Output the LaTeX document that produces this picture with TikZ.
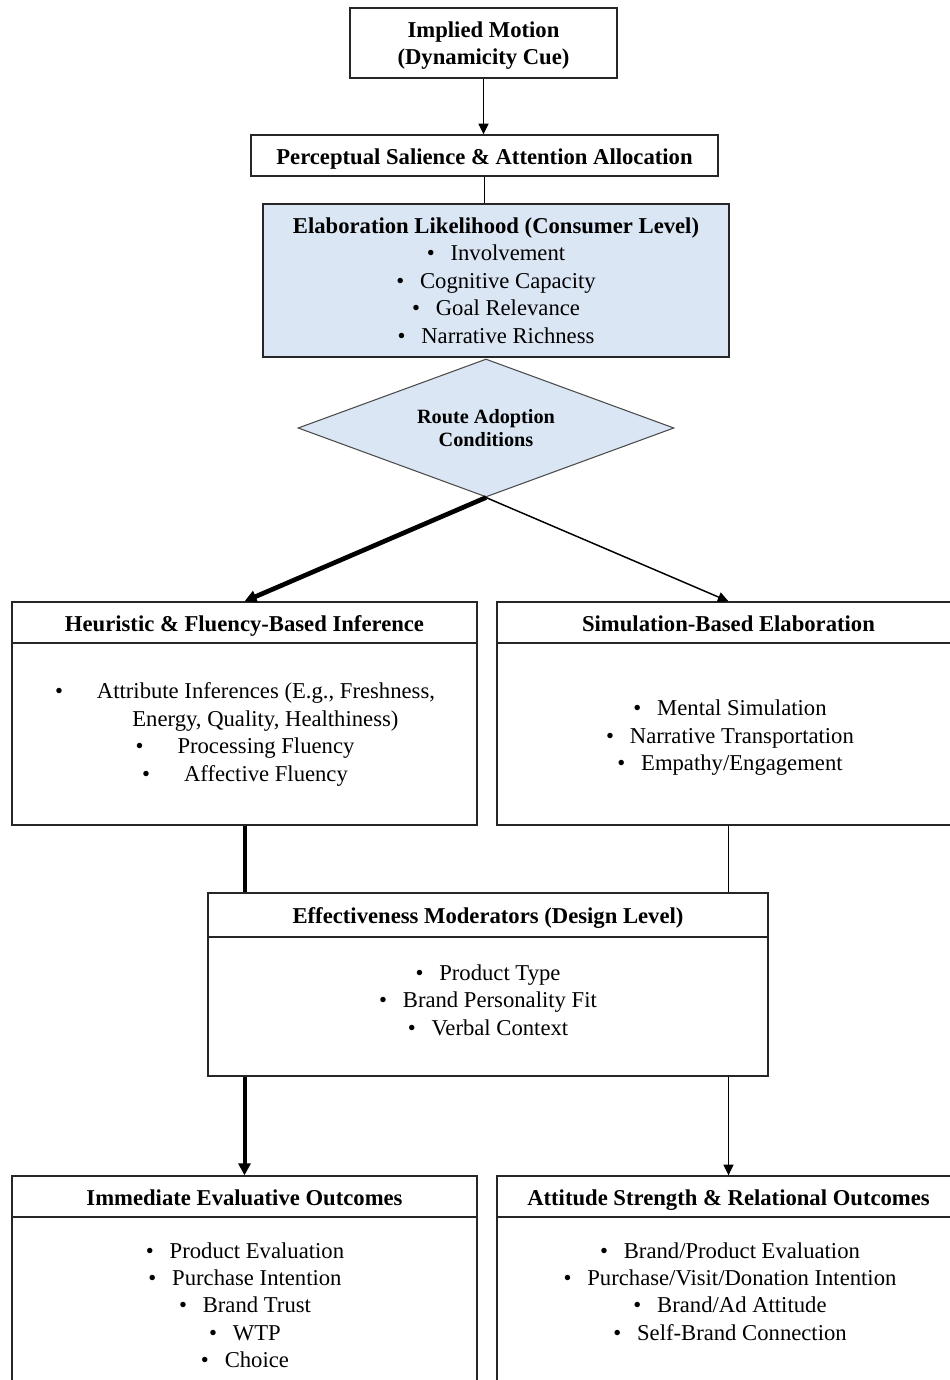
\documentclass[tikz,border=0pt]{standalone}
\usepackage{fontspec}
\setmainfont{Liberation Serif}
\usetikzlibrary{arrows.meta,shapes.geometric}

\definecolor{paleblue}{HTML}{DAE6F3}

\begin{document}
\begin{tikzpicture}[x=0.75pt, y=-0.75pt,
	box/.style={draw=black!85, line width=1pt, fill=white, inner sep=0pt, align=center},
	bold/.style={font=\fontsize{17}{20.6}\selectfont\bfseries},
	hdr/.style={bold, text height=13.5pt, text depth=0.5pt},
	txt/.style={inner sep=0pt, align=center, font=\fontsize{17}{20.6}\selectfont},
	thin/.style={line width=1.1pt, -{Triangle[length=8pt,width=7.5pt]}},
	thick/.style={line width=3pt, -{Triangle[length=9pt,width=9pt]}}]
	\useasboundingbox (0,0) rectangle (949,1380);
	% top of the chain
	\node[box, bold, minimum width=200.25pt, minimum height=52.5pt] (cue) at (483.5,43) {};
	\node[bold, inner sep=0pt, align=center] (cueT) at (483.5,45.5) {Implied Motion\\(Dynamicity Cue)};
	\node[box, hdr, minimum width=350.25pt, minimum height=30.75pt] (salience) at (484.5,155.5) {Perceptual Salience \& Attention Allocation};
	\node[box, txt, fill=paleblue, minimum width=349.5pt, minimum height=114.75pt] (elab) at (496,280.5)
		{\textbf{Elaboration Likelihood (Consumer Level)}\\
		 \textbullet\hspace{0.7em}Involvement\\
		 \textbullet\hspace{0.7em}Cognitive Capacity\\
		 \textbullet\hspace{0.7em}Goal Relevance\\
		 \textbullet\hspace{0.7em}Narrative Richness};
	\node[diamond, aspect=2.7, draw=black!70, line width=0.8pt, fill=paleblue, inner sep=0pt, align=center,
		minimum width=282pt, minimum height=103.5pt, font=\fontsize{15.2}{17.5}\selectfont\bfseries] (route) at (486,428)
		{Route Adoption\\Conditions};

	% two routes
	\node[box, hdr, minimum width=348.75pt, minimum height=30.75pt] (heurH) at (244.5,622.5) {Heuristic \& Fluency-Based Inference};
	\node[box, minimum width=348.75pt, minimum height=136.5pt] (heurB) at (244.5,734) {};
	\node[txt] (heurT) at (245,734.5)
		{\textbullet\hspace{1.5em}Attribute Inferences (E.g., Freshness,\\
		 \hspace*{1.8em}Energy, Quality, Healthiness)\\
		 \textbullet\hspace{1.5em}Processing Fluency\\
		 \textbullet\hspace{1.5em}Affective Fluency};
	\node[box, hdr, minimum width=347.25pt, minimum height=30.75pt] (simH) at (728.5,622.5) {Simulation-Based Elaboration};
	\node[box, minimum width=347.25pt, minimum height=136.5pt] (simB) at (728.5,734) {};
	\node[txt] (simT) at (730,738)
		{\textbullet\hspace{0.7em}Mental Simulation\\
		 \textbullet\hspace{0.7em}Narrative Transportation\\
		 \textbullet\hspace{0.7em}Empathy/Engagement};

	% moderators
	\node[box, hdr, minimum width=420pt, minimum height=33pt] (modH) at (488,915) {Effectiveness Moderators (Design Level)};
	\node[box, minimum width=420pt, minimum height=104.25pt] (modB) at (488,1006.5) {};
	\node[txt] (modT) at (488,1000)
		{\textbullet\hspace{0.7em}Product Type\\
		 \textbullet\hspace{0.7em}Brand Personality Fit\\
		 \textbullet\hspace{0.7em}Verbal Context};

	% outcomes
	\node[box, hdr, minimum width=348.75pt, minimum height=30.75pt] (immH) at (244.5,1196.5) {Immediate Evaluative Outcomes};
	\node[box, minimum width=348.75pt, minimum height=137.25pt] (immB) at (244.5,1308.5) {};
	\node[txt, anchor=north] (immT) at (245,1242)
		{\textbullet\hspace{0.7em}Product Evaluation\\
		 \textbullet\hspace{0.7em}Purchase Intention\\
		 \textbullet\hspace{0.7em}Brand Trust\\
		 \textbullet\hspace{0.7em}WTP\\
		 \textbullet\hspace{0.7em}Choice};
	\node[box, hdr, minimum width=347.25pt, minimum height=30.75pt] (attH) at (728.5,1196.5) {Attitude Strength \& Relational Outcomes};
	\node[box, minimum width=347.25pt, minimum height=137.25pt] (attB) at (728.5,1308.5) {};
	\node[txt, anchor=north] (attT) at (730,1242)
		{\textbullet\hspace{0.7em}Brand/Product Evaluation\\
		 \textbullet\hspace{0.7em}Purchase/Visit/Donation Intention\\
		 \textbullet\hspace{0.7em}Brand/Ad Attitude\\
		 \textbullet\hspace{0.7em}Self-Brand Connection};

	% connectors
	\draw[thin] (cue.south) -- (cue.south |- salience.north);
	\draw[line width=1.1pt] (salience.south) -- (salience.south |- elab.north);
	\draw[thick, line width=3.5pt] (route.south) -- (heurH.north);
	\draw[thin] (route.south) -- (simH.north);
	\draw[line width=3pt] (heurB.south) -- (heurB.south |- modH.north);
	\draw[line width=1.1pt] (simB.south) -- (simB.south |- modH.north);
	\draw[thick] (modB.south -| immH.north) -- (immH.north);
	\draw[thin] (modB.south -| attH.north) -- (attH.north);
\end{tikzpicture}
\end{document}
